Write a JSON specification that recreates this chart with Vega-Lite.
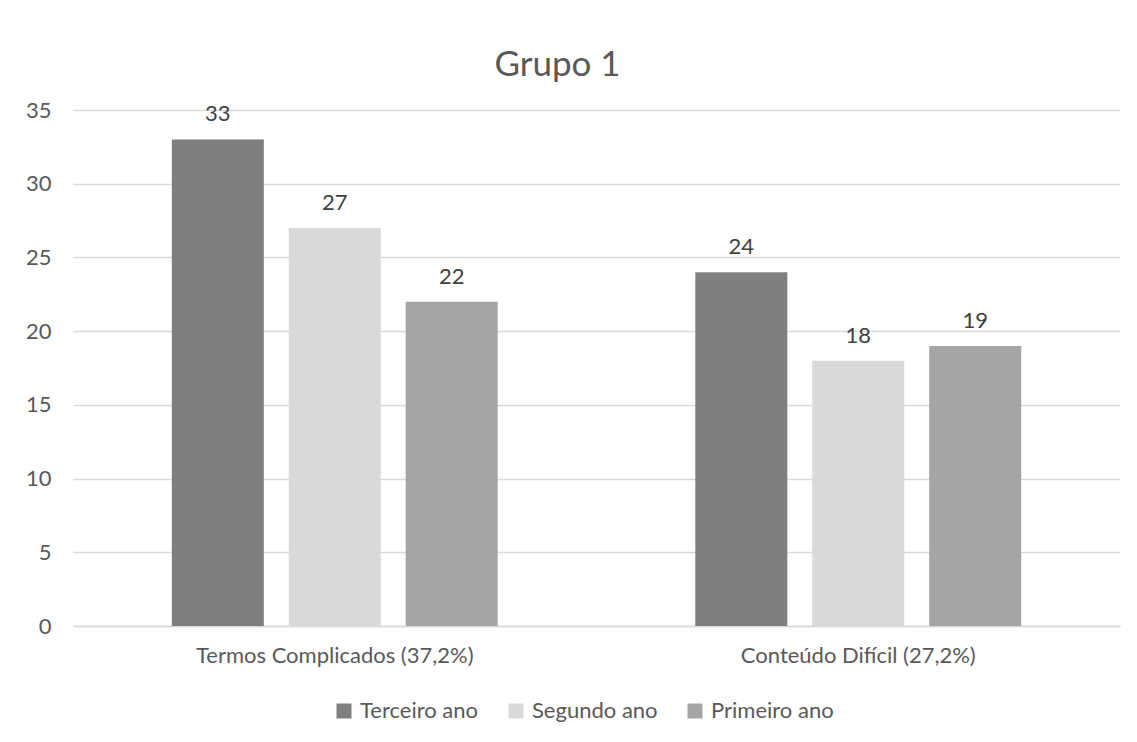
{
  "$schema": "https://vega.github.io/schema/vega-lite/v6.json",
  "width": 1047,
  "height": 516,
  "autosize": "none",
  "padding": {"left": 73, "top": 110, "right": 17, "bottom": 116},
  "background": "white",
  "config": {
    "view": {"stroke": null},
    "font": "Lato",
    "text": {"font": "Lato"}
  },
  "title": {
    "text": "Grupo 1",
    "fontSize": 35,
    "font": "Lato",
    "fontWeight": "normal",
    "color": "#595959",
    "anchor": "middle",
    "dx": -39,
    "offset": 16
  },
  "data": {
    "values": [
      {"categoria": "Termos Complicados (37,2%)", "serie": "Terceiro ano", "valor": 33},
      {"categoria": "Termos Complicados (37,2%)", "serie": "Segundo ano", "valor": 27},
      {"categoria": "Termos Complicados (37,2%)", "serie": "Primeiro ano", "valor": 22},
      {"categoria": "Conteúdo Difícil (27,2%)", "serie": "Terceiro ano", "valor": 24},
      {"categoria": "Conteúdo Difícil (27,2%)", "serie": "Segundo ano", "valor": 18},
      {"categoria": "Conteúdo Difícil (27,2%)", "serie": "Primeiro ano", "valor": 19}
    ]
  },
  "encoding": {
    "x": {
      "field": "categoria",
      "type": "nominal",
      "sort": ["Termos Complicados (37,2%)", "Conteúdo Difícil (27,2%)"],
      "scale": {"paddingInner": 0, "paddingOuter": 0},
      "axis": {
        "title": null,
        "labelAngle": 0,
        "labelFontSize": 22,
        "labelFont": "Lato",
        "labelColor": "#595959",
        "labelPadding": 19,
        "labelLimit": 0,
        "ticks": false,
        "domain": true,
        "domainColor": "#d9d9d9",
        "domainWidth": 1.5,
        "grid": false
      }
    },
    "xOffset": {
      "field": "serie",
      "type": "nominal",
      "sort": ["Terceiro ano", "Segundo ano", "Primeiro ano"],
      "scale": {"paddingInner": 0.213, "paddingOuter": 0.845}
    },
    "y": {
      "field": "valor",
      "type": "quantitative",
      "scale": {"domain": [0, 35], "nice": false},
      "axis": {
        "title": null,
        "values": [0, 5, 10, 15, 20, 25, 30, 35],
        "labelFontSize": 22,
        "labelFont": "Lato",
        "labelColor": "#595959",
        "labelPadding": 22,
        "ticks": false,
        "domain": false,
        "gridColor": "#d9d9d9",
        "gridWidth": 1.5
      }
    }
  },
  "layer": [
    {
      "mark": {"type": "bar"},
      "encoding": {
        "color": {
          "field": "serie",
          "type": "nominal",
          "sort": ["Terceiro ano", "Segundo ano", "Primeiro ano"],
          "scale": {
            "domain": ["Terceiro ano", "Segundo ano", "Primeiro ano"],
            "range": ["#7f7f7f", "#d9d9d9", "#a5a5a5"]
          },
          "legend": {
            "title": null,
            "orient": "none",
            "direction": "horizontal",
            "legendX": 260,
            "legendY": 590,
            "symbolType": "square",
            "symbolSize": 225,
            "symbolStrokeWidth": 0,
            "labelFontSize": 22,
            "labelFont": "Lato",
            "labelColor": "#595959",
            "labelOffset": 5,
            "columnPadding": 26
          }
        }
      }
    },
    {
      "mark": {
        "type": "text",
        "baseline": "alphabetic",
        "dy": -18,
        "fontSize": 22,
        "font": "Lato",
        "color": "#404040"
      },
      "encoding": {
        "text": {"field": "valor", "type": "quantitative"}
      }
    }
  ]
}
